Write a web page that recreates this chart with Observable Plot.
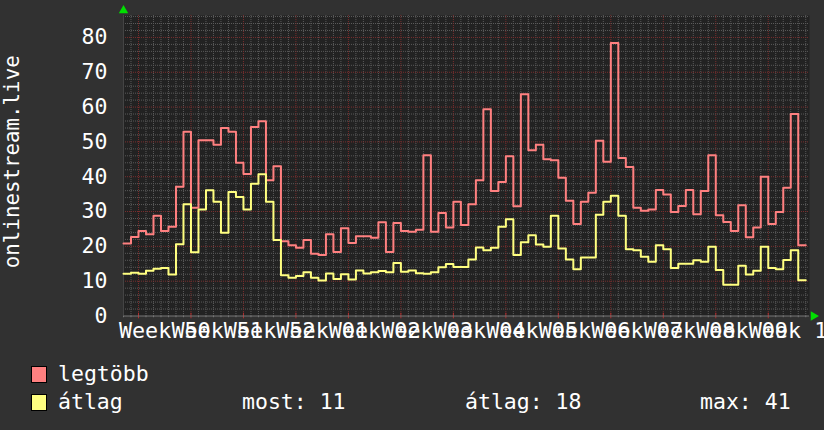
<!DOCTYPE html>
<html>
<head>
<meta charset="utf-8">
<script src="https://cdn.jsdelivr.net/npm/d3@7"></script>
<script src="https://cdn.jsdelivr.net/npm/@observablehq/plot@0.6"></script>
<style>
  html, body { margin: 0; padding: 0; background: #313131; overflow: hidden; }
  #wrap { position: relative; width: 824px; height: 430px; font-family: "DejaVu Sans Mono", monospace; color: #fff; }
  .lg { position: absolute; font-size: 21.5px; line-height: 21px; white-space: pre; }
  .sw { position: absolute; width: 14px; height: 15px; border: 1px solid #000; }
</style>
</head>
<body>
<div id="wrap"><div id="chart"></div></div>
<script>
// Daily values (one per day), timeline starts on a Saturday two days before Week 50
const legtobb = [20.8,22.7,24.4,23.5,28.8,24.4,25.6,37.1,52.9,31.1,50.5,50.5,49.2,54.0,52.9,44.0,40.8,54.3,55.9,39.0,
  43.0,21.5,20.3,19.6,21.8,17.9,17.5,23.5,18.4,25.2,21.0,22.9,22.9,22.5,26.9,18.4,26.7,24.4,24.2,24.8,
  46.2,24.2,29.6,25.4,32.8,26.1,32.1,39.0,59.4,35.9,38.5,45.9,31.5,63.7,47.6,49.2,45.0,44.7,39.7,33.1,
  26.4,32.8,35.4,50.3,44.3,78.4,45.4,42.8,31.1,30.2,30.6,36.2,34.9,29.9,31.6,36.2,29.2,35.9,46.2,28.9,
  27.0,24.4,31.8,22.6,25.4,40.0,26.4,29.9,36.8,58.0,20.3];
const atlag = [12.1,12.4,12.1,13.0,13.6,13.8,11.9,20.6,32.1,18.3,30.6,36.1,32.8,23.9,35.6,34.2,30.6,38.0,40.7,32.8,
  21.8,11.7,11.0,11.5,12.6,11.0,10.2,12.2,10.6,12.0,10.5,13.1,12.2,12.6,12.9,12.6,15.2,12.7,13.1,12.3,
  12.1,12.6,14.0,14.9,14.1,14.1,16.2,19.7,18.9,19.6,25.6,27.8,17.5,21.2,23.2,20.5,19.9,28.8,19.4,16.2,
  13.4,16.8,16.8,29.1,32.8,34.5,28.8,19.2,18.9,17.0,15.6,20.3,19.2,13.8,15.0,15.0,16.0,15.6,19.9,13.2,
  9.0,9.0,14.4,11.9,13.0,19.9,13.8,13.4,16.1,18.9,10.3];
const weekLabels = ["Week 50","Week 51","Week 52","Week 01","Week 02","Week 03","Week 04","Week 05","Week 06","Week 07","Week 08","Week 09","Week 10"];
const yTicks = [0,10,20,30,40,50,60,70,80];
const yTitle = "onlinestream.live";
const legendNames = ["legtöbb", "átlag"];
const legendStats = ["most: 11", "átlag: 18", "max: 41"];

const firstMonday = 2;      // day index of the Monday starting Week 50
const xMax = 91.5, yMax = 86.3;
const colRed = "#ff8080", colYel = "#ffff80";

const toSteps = arr => arr.map((v, i) => ({d: i, v})).concat([{d: arr.length, v: arr[arr.length - 1]}]);
const days = d3.range(0, Math.floor(xMax) + 1);
const weekStarts = weekLabels.map((_, k) => firstMonday + 7 * k);
const minorDays = days.filter(d => (d - firstMonday) % 7 !== 0);
const minorY = d3.range(0, yMax, 2).filter(v => v % 10 !== 0);
const font = "DejaVu Sans Mono";

const chart = Plot.plot({
  width: 824, height: 345,
  marginLeft: 123, marginRight: 15, marginTop: 15, marginBottom: 29.5,
  x: {domain: [0, xMax], axis: null},
  y: {domain: [0, yMax], axis: null},
  style: {background: "transparent", fontFamily: font, color: "#fff", overflow: "visible"},
  marks: [
    Plot.frame({fill: "#222222", stroke: null}),
    Plot.ruleX(minorDays, {stroke: "#5a5a5a", strokeDasharray: "1,1"}),
    Plot.ruleY(minorY, {stroke: "#5a5a5a", strokeDasharray: "1,1"}),
    Plot.ruleX(weekStarts, {stroke: "#7a2e2e", strokeDasharray: "1,1"}),
    Plot.ruleY(yTicks.filter(v => v > 0), {stroke: "#7a2e2e", strokeDasharray: "1,1"}),
    Plot.ruleX(minorDays, {y1: 0, y2: -0.5, stroke: "#777"}),
    Plot.ruleX(weekStarts, {y1: 0.8, y2: -0.8, stroke: "#b03030"}),
    Plot.ruleY([0], {stroke: "#777"}),
    Plot.ruleX([0], {stroke: "#444"}),
    Plot.line(toSteps(legtobb), {x: "d", y: "v", curve: "step-after", stroke: colRed, strokeWidth: 2}),
    Plot.line(toSteps(atlag), {x: "d", y: "v", curve: "step-after", stroke: colYel, strokeWidth: 2}),
    Plot.dot([0], {x: 0, y: yMax, dy: -5, symbol: "triangle", r: 3.5, fill: "#00e000", stroke: null}),
    Plot.dot([0], {x: xMax, y: 0, dx: 4, symbol: "triangle", r: 3.5, rotate: 90, fill: "#00e000", stroke: null}),
    Plot.text(yTicks, {x: 0, y: d => d, text: d => String(d), textAnchor: "end", dx: -16, dy: 0, fill: "#fff", fontSize: 21.5, fontFamily: font}),
    Plot.text(weekLabels, {x: (d, i) => weekStarts[i] + 3.5, y: 0, text: d => d, dy: 15, fill: "#fff", fontSize: 21.75, fontFamily: font}),
    Plot.text([yTitle], {frameAnchor: "left", textAnchor: "middle", lineAnchor: "middle", dx: -111, dy: -4, rotate: -90, fill: "#fff", fontSize: 20.8, fontFamily: font})
  ]
});
document.getElementById("chart").appendChild(chart);

const wrap = document.getElementById("wrap");
function addText(txt, x, top) {
  const el = document.createElement("div");
  el.className = "lg"; el.textContent = txt;
  el.style.left = x + "px"; el.style.top = top + "px";
  wrap.appendChild(el);
}
function addSwatch(color, x, top) {
  const el = document.createElement("div");
  el.className = "sw"; el.style.background = color;
  el.style.left = x + "px"; el.style.top = top + "px";
  wrap.appendChild(el);
}
addSwatch(colRed, 31, 366);
addSwatch(colYel, 31, 394);
addText(legendNames[0], 58, 363);
addText(legendNames[1], 58, 391);
addText(legendStats[0], 242, 391);
addText(legendStats[1], 465, 391);
addText(legendStats[2], 700, 391);
</script>
</body>
</html>
